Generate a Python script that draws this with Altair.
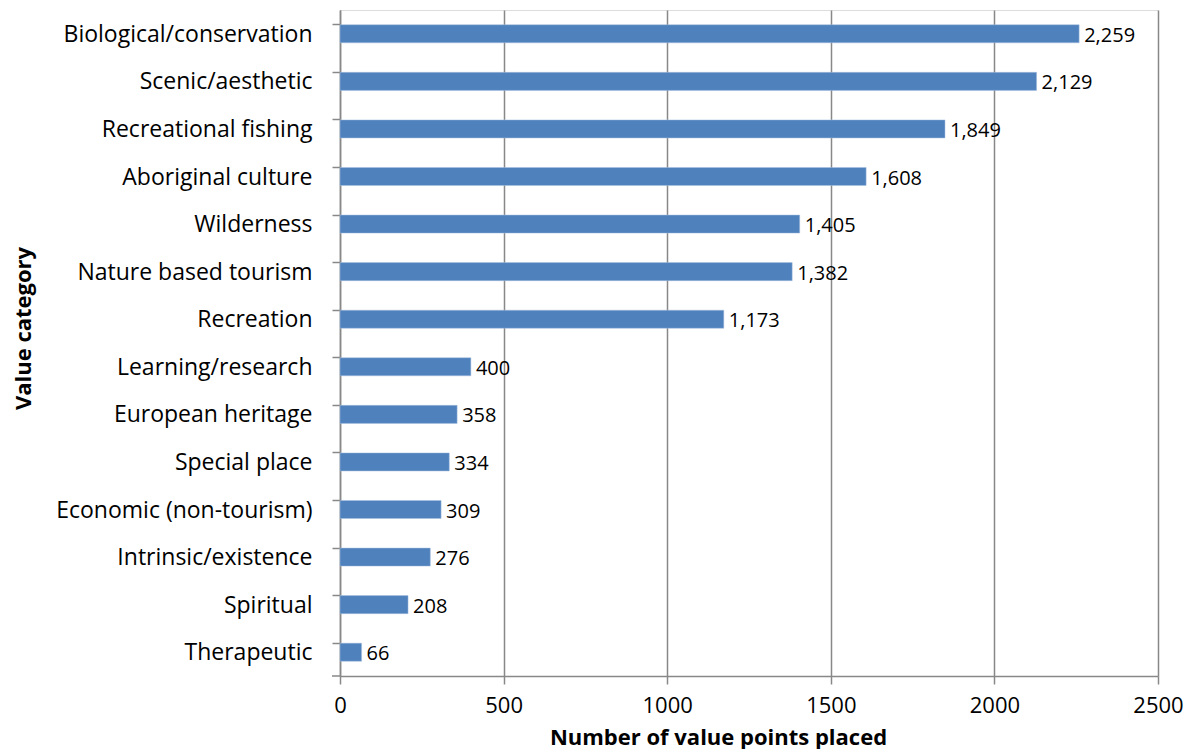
import altair as alt
import pandas as pd

categories = [
    "Biological/conservation", "Scenic/aesthetic", "Recreational fishing",
    "Aboriginal culture", "Wilderness", "Nature based tourism", "Recreation",
    "Learning/research", "European heritage", "Special place",
    "Economic (non-tourism)", "Intrinsic/existence", "Spiritual", "Therapeutic",
]
values = [2259, 2129, 1849, 1608, 1405, 1382, 1173, 400, 358, 334, 309, 276, 208, 66]
x_ticks = [0, 500, 1000, 1500, 2000, 2500]

df = pd.DataFrame({"category": categories, "value": values})

FONT = "Open Sans"
GRAY = "#888888"

y_enc = alt.Y(
    "category:N", sort=categories,
    scale=alt.Scale(paddingInner=0.62, paddingOuter=0.31),
    axis=alt.Axis(
        title="Value category", titleFont=FONT, titleFontSize=22, titleFontWeight="bold",
        titleColor="black", titleAngle=-90, titleX=-310, titleY=318,
        titleAlign="center", titleBaseline="alphabetic",
        labelFont=FONT, labelFontSize=23, labelColor="black", labelPadding=20,
        labelLimit=400, labelOffset=1,
        tickSize=8, tickColor=GRAY, tickWidth=1.5, bandPosition=0,
        domainColor=GRAY, domainWidth=1.5, grid=False,
    ),
)
x_enc = alt.X(
    "value:Q",
    scale=alt.Scale(domain=[0, 2500], nice=False, zero=True),
    axis=alt.Axis(
        values=x_ticks, format="d", title="Number of value points placed",
        titleFont=FONT, titleFontSize=22, titleFontWeight="bold", titleColor="black",
        titleX=378, titleY=68, titleAlign="center", titleBaseline="alphabetic",
        labelFont=FONT, labelFontSize=22, labelColor="black", labelPadding=11,
        labelFlush=False,
        tickSize=8, tickColor=GRAY, tickWidth=1.5,
        domainColor=GRAY, domainWidth=1.5,
        grid=True, gridColor=GRAY, gridWidth=1.5,
    ),
)

base = alt.Chart(df)
bars = base.mark_bar(color="#4f81bd", stroke="#a9c0df", strokeWidth=0.5).encode(x=x_enc, y=y_enc)
labels = base.mark_text(align="left", baseline="middle", dx=5, dy=2, font=FONT, fontSize=20, color="black").encode(
    x="value:Q", y=alt.Y("category:N", sort=categories), text=alt.Text("value:Q", format=",")
)
bottom_tick = alt.Chart(pd.DataFrame({"a": [0]})).mark_rule(color=GRAY, strokeWidth=1.5).encode(
    x=alt.value(-8), x2=alt.value(0), y=alt.value(666)
)

chart = (bars + labels + bottom_tick).properties(
    width=818, height=666,
    autosize=alt.AutoSizeParams(type="none"),
    padding={"left": 332, "top": 2, "right": 30, "bottom": 73},
).configure_view(stroke=None).configure(background="white")

chart.save("out.html", embed_options={"renderer": "svg", "actions": False})
